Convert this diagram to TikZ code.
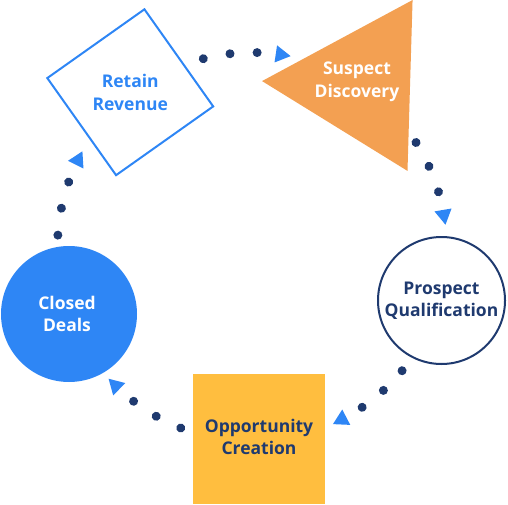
\documentclass[tikz,border=0pt]{standalone}
\usepackage{fontspec}
\setmainfont{Open Sans}
\usetikzlibrary{shapes.geometric,decorations.markings}
\definecolor{cblue}{HTML}{2E86F5}
\definecolor{corange}{HTML}{F3A052}
\definecolor{navy}{HTML}{1F3A6F}
\definecolor{cyellow}{HTML}{FFBE3F}
\begin{document}
\begin{tikzpicture}[x=1pt,y=1pt,
  lbl/.style={font=\fontsize{17.5}{22.5}\selectfont\bfseries, align=center, inner sep=0},
  flowdot/.style={fill=navy},
  dotpath/.style={decoration={markings,
     mark=at position 0 with {\fill[flowdot] (0,0) circle (4.5);},
     mark=at position 0.348 with {\fill[flowdot] (0,0) circle (4.5);},
     mark=at position 0.696 with {\fill[flowdot] (0,0) circle (4.5);},
     mark=at position 0.9999 with {\fill[cblue] (10,0) -- (-5,8.66) -- (-5,-8.66) -- cycle;}}, decorate}]
\useasboundingbox (0,0) rectangle (508,504);
\coordinate (hub) at (252,257);
% shapes
\node[rectangle, draw=cblue, line width=2, minimum size=119, inner sep=0, rotate=35.3] (retain) at (130.25,411.75) {};
\node[regular polygon, regular polygon sides=3, fill=corange, minimum size=197.4, inner sep=0, rotate=88.3] (suspect) at (360.7,420) {};
\node[circle, draw=navy, line width=2, minimum size=127, inner sep=0] (prospect) at (441.5,203.5) {};
\node[rectangle, fill=cyellow, minimum width=132, minimum height=130, inner sep=0] (opportunity) at (259,65) {};
\node[circle, fill=cblue, minimum size=136, inner sep=0] (closed) at (69,190) {};
% labels
\node[lbl, text=cblue] at (retain.center) {Retain\\Revenue};
\node[lbl, text=white] at ([xshift=-3.7pt,yshift=2pt]suspect.center) {Suspect\\Discovery};
\node[lbl, text=navy] at (prospect.center) {Prospect\\Qualification};
\node[lbl, text=navy] at ([yshift=2pt]opportunity.center) {Opportunity\\Creation};
\node[lbl, text=white] at ([xshift=-2pt]closed.center) {Closed\\Deals};
% connectors (clockwise cycle)
\path[dotpath] ([shift={(104.5:194.5)}]hub) arc[start angle=104.5, delta angle=-23, radius=194.5]; % retain -> suspect
\path[dotpath] ([shift={(32.5:194.5)}]hub) arc[start angle=32.5, delta angle=-23, radius=194.5]; % suspect -> prospect
\path[dotpath] ([shift={(-39.5:194.5)}]hub) arc[start angle=-39.5, delta angle=-23, radius=194.5]; % prospect -> opportunity
\path[dotpath] ([shift={(-111.5:194.5)}]hub) arc[start angle=-111.5, delta angle=-23, radius=194.5]; % opportunity -> closed
\path[dotpath] ([shift={(-183.5:194.5)}]hub) arc[start angle=-183.5, delta angle=-23, radius=194.5]; % closed -> retain
\end{tikzpicture}
\end{document}
